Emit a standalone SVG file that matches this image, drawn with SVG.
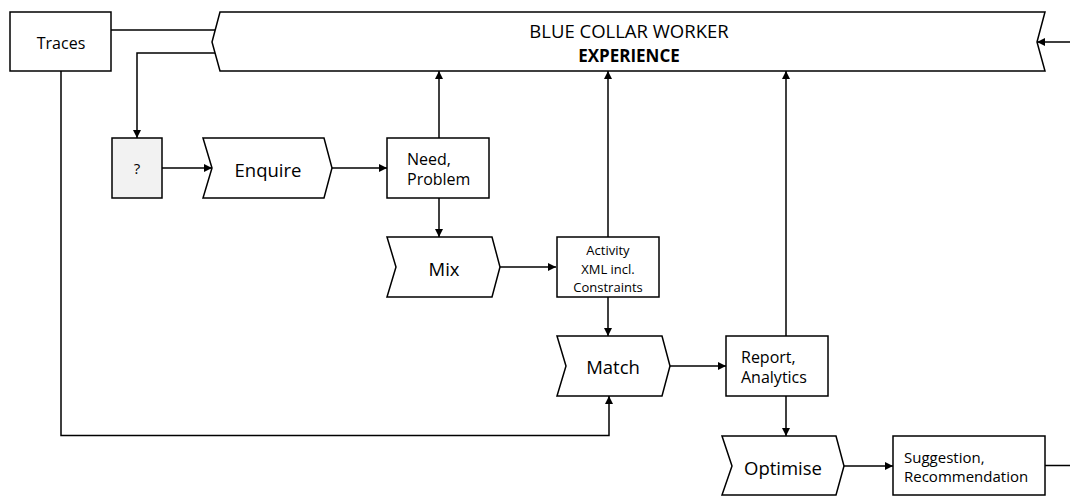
<svg xmlns="http://www.w3.org/2000/svg" width="1070" height="496" viewBox="0 0 1070 496">
<defs>
<marker id="arr" viewBox="0 0 10 10" refX="10" refY="5" markerWidth="9" markerHeight="8" markerUnits="userSpaceOnUse" orient="auto">
<path d="M0,0 L10,5 L0,10 z" fill="#000"/>
</marker>
</defs>
<style>
.box{fill:#fff;stroke:#000;stroke-width:1.5}
.grey{fill:#f2f2f2}
.ln{fill:none;stroke:#000;stroke-width:1.5}
.ar{marker-end:url(#arr)}
text{font-family:"Open Sans","Liberation Sans",sans-serif;fill:#000}
.big{font-size:18.5px;text-anchor:middle}
.mid{font-size:16px}
.sm{font-size:13px;text-anchor:middle}
.c{text-anchor:middle}
</style>
<rect width="1070" height="496" fill="#fff"/>
<g id="connectors">
<path class="ln" d="M111,30 H215"/>
<path class="ln ar" d="M215,53 H137 V138"/>
<path class="ln ar" d="M162,168 H212"/>
<path class="ln ar" d="M332,168 H387"/>
<path class="ln ar" d="M439,138 V71"/>
<path class="ln ar" d="M439,198 V237"/>
<path class="ln ar" d="M500,267 H556"/>
<path class="ln ar" d="M608,237 V71"/>
<path class="ln ar" d="M608,297 V336"/>
<path class="ln ar" d="M670,366 H726"/>
<path class="ln ar" d="M786,336 V71"/>
<path class="ln ar" d="M786,396 V436"/>
<path class="ln ar" d="M844,466 H893"/>
<path class="ln ar" d="M1045,465.5 H1085 V42 H1037"/>
<path class="ln ar" d="M61,71 V435.5 H609 V396"/>
</g>
<g id="banner">
<path class="box" d="M220,12 H1045 L1037,42 L1045,71 H220 L212,42 Z"/>
<text class="big" x="629" y="38" style="font-size:18.5px">BLUE COLLAR WORKER</text>
<text class="big" x="629" y="62" font-weight="bold" style="font-size:17px">EXPERIENCE</text>
</g>
<g id="traces">
<rect class="box" x="10" y="12" width="101" height="59"/>
<text class="mid c" x="61" y="49">Traces</text>
</g>
<g id="unknown">
<rect class="box grey" x="112" y="138" width="50" height="60"/>
<text class="sm" x="137" y="174" style="font-size:15px">?</text>
</g>
<g id="enquire">
<path class="box" d="M203,138 H324 L332,168 L324,198 H203 L212,168 Z"/>
<text class="big" x="268" y="177">Enquire</text>
</g>
<g id="need">
<rect class="box" x="387" y="138" width="102" height="60"/>
<text class="mid" x="407" y="165">Need,</text>
<text class="mid" x="407" y="185">Problem</text>
</g>
<g id="mix">
<path class="box" d="M387,237 H492 L500,267 L492,297 H387 L396,267 Z"/>
<text class="big" x="444" y="276">Mix</text>
</g>
<g id="activity">
<rect class="box" x="557" y="237" width="102" height="60"/>
<text class="sm" x="608" y="255">Activity</text>
<text class="sm" x="608" y="274">XML incl.</text>
<text class="sm" x="608" y="292">Constraints</text>
</g>
<g id="match">
<path class="box" d="M557,336 H662 L670,366 L662,396 H557 L566,366 Z"/>
<text class="big" x="613" y="374">Match</text>
</g>
<g id="report">
<rect class="box" x="726" y="336" width="102" height="60"/>
<text class="mid" x="741" y="363">Report,</text>
<text class="mid" x="741" y="383">Analytics</text>
</g>
<g id="optimise">
<path class="box" d="M722,436 H836 L844,466 L836,495 H722 L732,466 Z"/>
<text class="big" x="783" y="475">Optimise</text>
</g>
<g id="suggestion">
<rect class="box" x="893" y="436" width="152" height="59"/>
<text class="mid" x="904" y="463" style="font-size:15px">Suggestion,</text>
<text class="mid" x="904" y="482" style="font-size:15px">Recommendation</text>
</g>
</svg>
